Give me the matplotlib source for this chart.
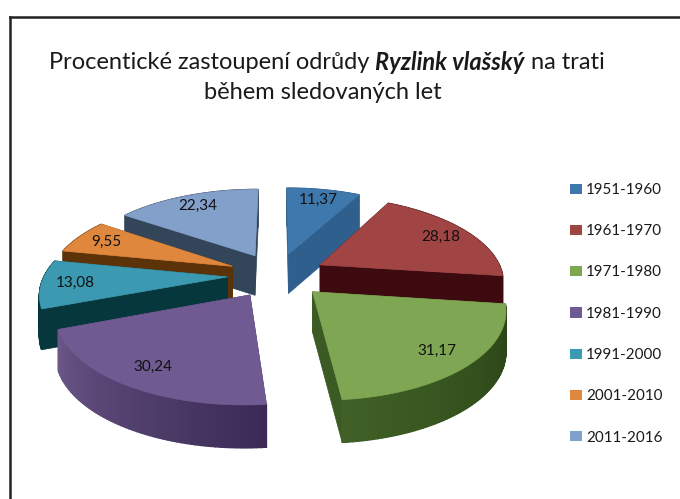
#!/usr/bin/env python3
# -*- coding: utf-8 -*-
import numpy as np
import matplotlib
matplotlib.use("Agg")
import matplotlib.pyplot as plt
from matplotlib.patches import Patch
from matplotlib.colors import to_rgb

plt.rcParams['font.family'] = ['Lato', 'DejaVu Sans']

periods = ['1951-1960', '1961-1970', '1971-1980', '1981-1990', '1991-2000', '2001-2010', '2011-2016']
values = [11.37, 28.18, 31.17, 30.24, 13.08, 9.55, 22.34]
value_labels = ['11,37', '28,18', '31,17', '30,24', '13,08', '9,55', '22,34']

top_col = ['#3f78ad', '#a04543', '#7fa653', '#6f5a92', '#3b9ab1', '#df873d', '#83a0cb']
cut_col = ['#2f5f8c', '#3d0a10', '#3c5a24', '#4e3d6c', '#06373c', '#5c3208', '#334558']
wall_a = ['#2f5f8c', '#3d0a10', '#2a4215', '#3b2a55', '#06373c', '#5c3208', '#334558']
wall_b = ['#2f5f8c', '#3d0a10', '#3f6026', '#6b5788', '#06373c', '#5c3208', '#334558']
draw_order = [0, 6, 1, 5, 4, 2, 3]
label_r = 0.82

# view of the tilted pie, in figure pixels
cx, cy = 277, 275
A, B = 183, 83.6
tilt = 0.17
explode = 0.27


def project(u, v):
    s = 1.0 / (1 + tilt * v)
    return cx + A * u * s, cy - B * v * s, 40 * s ** 0.3


def mix(c1, c2, t):
    c1, c2 = np.array(to_rgb(c1)), np.array(to_rgb(c2))
    return c1 + (c2 - c1) * t


fig = plt.figure(figsize=(6.8, 4.99), dpi=100)
ax = fig.add_axes([0, 0, 1, 1])
ax.set_xlim(0, 680)
ax.set_ylim(499, 0)
ax.axis('off')

# outer border of the chart
ax.plot([10, 10], [499, 17], color='#222222', lw=1.8)
ax.plot([10, 680], [17, 17], color='#222222', lw=1.8)

fr = np.array(values) / sum(values)
edges = 90 - 360 * np.concatenate([[0], np.cumsum(fr)])

for i in draw_order:
    a0, a1 = edges[i], edges[i + 1]
    mid = np.radians((a0 + a1) / 2)
    ou, ov = explode * np.cos(mid), explode * np.sin(mid)
    ang = np.radians(np.linspace(a0, a1, 60))
    x, y, d = project(ou + np.cos(ang), ov + np.sin(ang))
    ax_, ay_, ad = project(ou, ov)
    z = 1 + draw_order.index(i)

    # cut faces
    for k in [0, -1]:
        ax.fill([ax_, x[k], x[k], ax_], [ay_, y[k], y[k] + d[k], ay_ + ad], color=cut_col[i], lw=0.5, zorder=z)
    # outer wall, strip by strip for the shading
    for k in range(len(x) - 1):
        ax.fill([x[k], x[k + 1], x[k + 1], x[k]], [y[k], y[k + 1], y[k + 1] + d[k + 1], y[k] + d[k]],
                color=mix(wall_a[i], wall_b[i], k / (len(x) - 2)), lw=1, zorder=z)
    # top
    ax.fill(np.r_[ax_, x], np.r_[ay_, y], color=top_col[i], lw=0.5, zorder=z)

    lx, ly, _ = project(ou + label_r * np.cos(mid), ov + label_r * np.sin(mid))
    ax.text(lx, ly, value_labels[i], ha='center', va='center', fontsize=11, color='#111111', zorder=20)

# title, middle part in bold italic
parts = [('Procentické zastoupení odrůdy ', 'normal', 'normal'),
         ('Ryzlink vlašský', 'bold', 'italic'),
         (' na trati', 'normal', 'normal')]
r = fig.canvas.get_renderer()
tx = 49
for s, w, st in parts:
    t = ax.text(tx, 62, s.replace(' ', '\u00a0'), fontsize=17, fontweight=w, fontstyle=st, va='center', ha='left', color='#1a1a1a')
    tx = t.get_window_extent(r).x1
ax.text(323, 92, 'během sledovaných let', fontsize=17, va='center', ha='center', color='#1a1a1a')

handles = [Patch(facecolor=c, label=p) for c, p in zip(top_col, periods)]
ax.legend(handles=handles, loc='upper left', bbox_to_anchor=(570 / 680, 1 - 183 / 499), frameon=False,
          fontsize=10.9, labelspacing=1.8, handlelength=0.8, handleheight=0.66, handletextpad=0.27,
          borderpad=0, borderaxespad=0, labelcolor='#1a1a1a')

fig.savefig('out.png', dpi=100)
